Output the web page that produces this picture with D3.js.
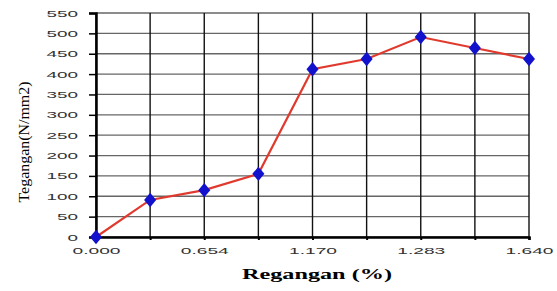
<!DOCTYPE html>
<html>
<head>
<meta charset="utf-8">
<script src="https://cdn.jsdelivr.net/npm/d3@7"></script>
<style>
  body { margin: 0; background: #fff; }
  svg { display: block; }
</style>
</head>
<body>
<svg id="chart" width="557" height="291"></svg>
<script>
// data
const categories = ['0.000', '0.327', '0.654', '0.912', '1.170', '1.226', '1.283', '1.461', '1.640'];
const shownLabels = ['0.000', '0.654', '1.170', '1.283', '1.640'];
const stress = [0, 91, 115, 155, 412, 437, 491, 464, 437];
const yTicks = [0, 50, 100, 150, 200, 250, 300, 350, 400, 450, 500, 550];

const W = 557, H = 291;
const m = { left: 96, right: 28, top: 13, bottom: 54 };

const svg = d3.select('#chart');

const x = d3.scalePoint()
  .domain(categories)
  .range([m.left, W - m.right]);

const y = d3.scaleLinear()
  .domain([0, 550])
  .range([H - m.bottom, m.top]);

// horizontal grid
svg.append('g')
  .selectAll('line')
  .data(yTicks)
  .enter()
  .append('line')
  .attr('x1', m.left)
  .attr('x2', W - m.right)
  .attr('y1', d => y(d))
  .attr('y2', d => y(d))
  .attr('stroke', '#666')
  .attr('stroke-width', 1.3);

// vertical grid
svg.append('g')
  .selectAll('line')
  .data(categories)
  .enter()
  .append('line')
  .attr('x1', d => x(d))
  .attr('x2', d => x(d))
  .attr('y1', m.top)
  .attr('y2', H - m.bottom)
  .attr('stroke', '#111')
  .attr('stroke-width', 1.4);

// y axis
const yAxis = svg.append('g')
  .attr('transform', `translate(${m.left},0)`)
  .call(d3.axisLeft(y).tickValues(yTicks).tickSize(7).tickPadding(11));
yAxis.select('.domain').attr('stroke', '#000').attr('stroke-width', 2.5);
yAxis.selectAll('.tick line').attr('stroke', '#000').attr('stroke-width', 1.5);
yAxis.selectAll('text')
  .attr('font-family', 'Liberation Sans, sans-serif')
  .attr('font-size', 9.5)
  .attr('textLength', d => String(d).length * 10.5)
  .attr('lengthAdjust', 'spacingAndGlyphs')
  .attr('fill', '#333');

// x axis
const xAxis = svg.append('g')
  .attr('transform', `translate(0,${H - m.bottom})`)
  .call(d3.axisBottom(x)
    .tickSize(3)
    .tickPadding(7)
    .tickFormat(d => shownLabels.includes(d) ? d : ''));
xAxis.select('.domain').attr('stroke', '#000').attr('stroke-width', 2.5);
xAxis.selectAll('.tick line').attr('stroke', '#000').attr('stroke-width', 2);
xAxis.selectAll('text')
  .attr('font-family', 'Liberation Sans, sans-serif')
  .attr('font-size', 9.5)
  .attr('textLength', d => shownLabels.includes(d) ? 48 : null)
  .attr('lengthAdjust', 'spacingAndGlyphs')
  .attr('fill', '#333');

// line
const line = d3.line()
  .x((d, i) => x(categories[i]))
  .y(d => y(d));

svg.append('path')
  .datum(stress)
  .attr('d', line)
  .attr('fill', 'none')
  .attr('stroke', '#e03a2e')
  .attr('stroke-width', 2.2);

// markers (wide diamonds)
svg.append('g')
  .selectAll('path')
  .data(stress)
  .enter()
  .append('path')
  .attr('d', d3.symbol().type(d3.symbolDiamond).size(60))
  .attr('transform', (d, i) => `translate(${x(categories[i])},${y(d)}) scale(1.45,1)`)
  .attr('fill', '#1212cc');

// titles
svg.append('text')
  .attr('x', 317)
  .attr('y', 279)
  .attr('text-anchor', 'middle')
  .attr('font-family', 'Liberation Serif, serif')
  .attr('font-weight', 'bold')
  .attr('font-size', 14)
  .attr('textLength', 150)
  .attr('lengthAdjust', 'spacingAndGlyphs')
  .text('Regangan (%)');

svg.append('text')
  .attr('transform', 'translate(29,142) rotate(-90)')
  .attr('text-anchor', 'middle')
  .attr('font-family', 'Liberation Serif, serif')
  .attr('font-size', 14)
  .attr('textLength', 121)
  .attr('lengthAdjust', 'spacingAndGlyphs')
  .text('Tegangan(N/mm2)');
</script>
</body>
</html>
